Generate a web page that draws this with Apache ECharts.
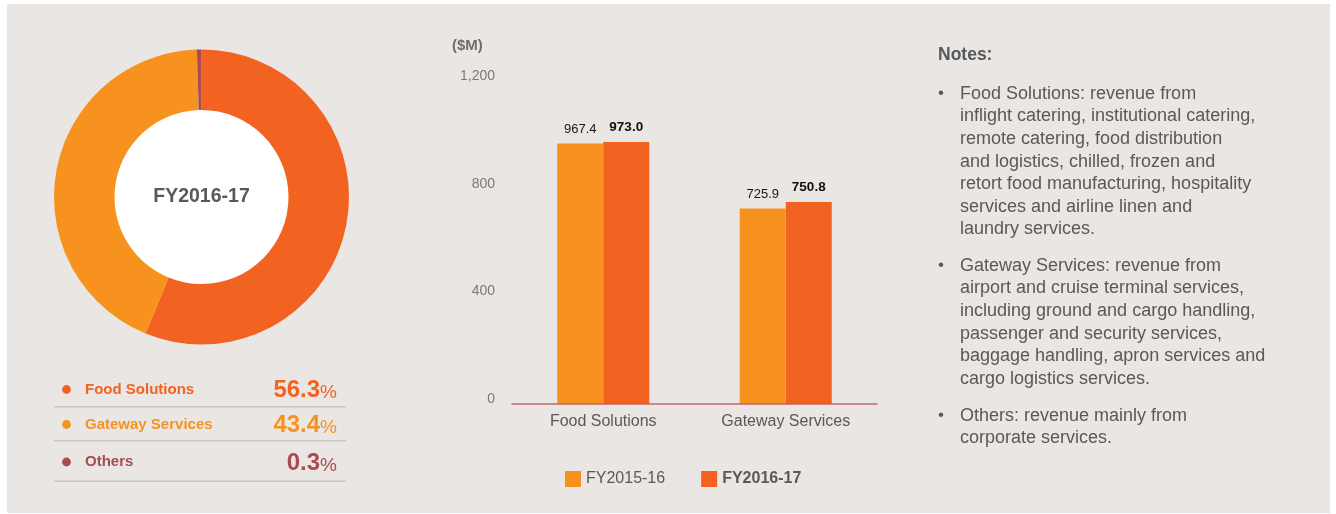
<!DOCTYPE html>
<html>
<head>
<meta charset="utf-8">
<script src="https://cdn.jsdelivr.net/npm/echarts@6/dist/echarts.min.js"></script>
<style>
html,body{margin:0;padding:0;background:#ffffff;}
#chart{width:1336px;height:514px;}
</style>
</head>
<body>
<div id="chart"></div>
<script>
// ---- data ----
var pieTitle = 'FY2016-17';
var pieNames = ['Food Solutions', 'Gateway Services', 'Others'];
var pieValues = [56.3, 43.4, 0.3];
var pieColors = ['#f26322', '#f7921e', '#a84b52'];

var barCategories = ['Food Solutions', 'Gateway Services'];
var barSeriesNames = ['FY2015-16', 'FY2016-17'];
var fy1516 = [967.4, 725.9];
var fy1617 = [973.0, 750.8];
var barColors = ['#f7921e', '#f26322'];
var yUnit = '($M)';

var notesTitle = 'Notes:';
var noteFood = ['Food Solutions: revenue from', 'inflight catering, institutional catering,', 'remote catering, food distribution', 'and logistics, chilled, frozen and', 'retort food manufacturing, hospitality', 'services and airline linen and', 'laundry services.'];
var noteGateway = ['Gateway Services: revenue from', 'airport and cruise terminal services,', 'including ground and cargo handling,', 'passenger and security services,', 'baggage handling, apron services and', 'cargo logistics services.'];
var noteOthers = ['Others: revenue mainly from', 'corporate services.'];
var notes = [noteFood, noteGateway, noteOthers];

// ---- layout ----
var FONT = '"Liberation Sans", Arial, Helvetica, sans-serif';
var rowY = [389.5, 424.5, 462];
var sepY = [406.7, 440.7, 481.3];
var noteTop = [82.5, 254.5, 404.5];

var chart = echarts.init(document.getElementById('chart'));

var graphics = [
  { type: 'rect', shape: { x: 7, y: 4, width: 1323, height: 509 }, style: { fill: '#e9e6e3' }, z: -10, silent: true },
  { type: 'circle', shape: { cx: 201.5, cy: 197, r: 88 }, style: { fill: '#ffffff' }, z: -5, silent: true },
  { type: 'text', x: 201.5, y: 197, style: { text: pieTitle, font: 'bold 19.5px ' + FONT, fill: '#58595b', align: 'center', verticalAlign: 'middle' }, z: 10 },
  { type: 'text', x: 452, y: 46, style: { text: yUnit, font: 'bold 15px ' + FONT, fill: '#6d6e70', align: 'left', verticalAlign: 'middle' } },
  { type: 'text', x: 938, y: 55, style: { text: notesTitle, font: 'bold 17.5px ' + FONT, fill: '#58595b', align: 'left', verticalAlign: 'middle' } }
];

pieNames.forEach(function (name, i) {
  graphics.push({ type: 'circle', shape: { cx: 66.5, cy: rowY[i], r: 4.4 }, style: { fill: pieColors[i] } });
  graphics.push({ type: 'text', x: 85, y: rowY[i], style: { text: name, font: 'bold 15px ' + FONT, fill: pieColors[i], align: 'left', verticalAlign: 'middle' } });
  graphics.push({
    type: 'text', x: 337, y: rowY[i] + 1,
    style: {
      text: '{n|' + pieValues[i].toFixed(1) + '}{p|%}',
      align: 'right', verticalAlign: 'middle',
      rich: {
        n: { fontFamily: FONT, fontWeight: 'bold', fontSize: 24, fill: pieColors[i], color: pieColors[i], verticalAlign: 'bottom' },
        p: { fontFamily: FONT, fontSize: 19, fill: pieColors[i], color: pieColors[i], verticalAlign: 'bottom' }
      }
    }
  });
  graphics.push({ type: 'line', shape: { x1: 54, y1: sepY[i], x2: 346, y2: sepY[i] }, style: { stroke: '#c8c8c8', lineWidth: 1.5 } });
});

notes.forEach(function (lines, i) {
  graphics.push({ type: 'text', x: 938, y: noteTop[i], style: { text: '\u2022', font: '17px ' + FONT, fill: '#595959', align: 'left', verticalAlign: 'top', lineHeight: 22.5 } });
  graphics.push({ type: 'text', x: 960, y: noteTop[i], style: { text: lines.join('\n'), font: '18px ' + FONT, fill: '#595959', align: 'left', verticalAlign: 'top', lineHeight: 22.6 } });
});

var option = {
  animation: false,
  backgroundColor: 'transparent',
  textStyle: { fontFamily: FONT },
  graphic: { elements: graphics },
  legend: {
    left: 565, top: 471, padding: 0,
    itemWidth: 16, itemHeight: 16, itemGap: 36,
    icon: 'rect',
    textStyle: { fontFamily: FONT, fontSize: 16, color: '#595959' },
    data: [
      { name: barSeriesNames[0] },
      { name: barSeriesNames[1], textStyle: { fontWeight: 'bold' } }
    ]
  },
  grid: { left: 512, right: 459, top: 81, bottom: 110, containLabel: false },
  xAxis: {
    type: 'category',
    data: barCategories,
    z: 5,
    axisLine: { show: true, lineStyle: { color: '#c25a5d', width: 1.5, opacity: 0.9 } },
    axisTick: { show: false },
    axisLabel: { fontFamily: FONT, fontSize: 16, color: '#595959', margin: 10 },
    splitLine: { show: false }
  },
  yAxis: {
    type: 'value',
    min: 0, max: 1200, interval: 400,
    axisLine: { show: false },
    axisTick: { show: false },
    splitLine: { show: false },
    axisLabel: {
      fontFamily: FONT, fontSize: 14, color: '#7a7a7a', margin: 17,
      verticalAlign: 'bottom', lineHeight: 10,
      formatter: function (v) { return v.toLocaleString('en-US'); }
    }
  },
  series: [
    {
      type: 'pie',
      center: [201.5, 197],
      radius: [87, 147.5],
      startAngle: 90,
      clockwise: true,
      minAngle: 1.8,
      label: { show: false },
      labelLine: { show: false },
      silent: true,
      z: 2,
      data: pieNames.map(function (n, i) { return { name: n, value: pieValues[i], itemStyle: { color: pieColors[i] } }; })
    },
    {
      name: barSeriesNames[0],
      type: 'bar',
      data: fy1516,
      barWidth: 46,
      barGap: '0%',
      itemStyle: { color: barColors[0] },
      label: { show: true, position: 'top', distance: 8, fontFamily: FONT, fontSize: 13, color: '#1a1a1a', formatter: function (p) { return p.value.toFixed(1); } }
    },
    {
      name: barSeriesNames[1],
      type: 'bar',
      data: fy1617,
      barWidth: 46,
      barGap: '0%',
      itemStyle: { color: barColors[1] },
      label: { show: true, position: 'top', distance: 8, fontFamily: FONT, fontSize: 13.5, fontWeight: 'bold', color: '#111111', formatter: function (p) { return p.value.toFixed(1); } }
    }
  ]
};
chart.setOption(option);
</script>
</body>
</html>
